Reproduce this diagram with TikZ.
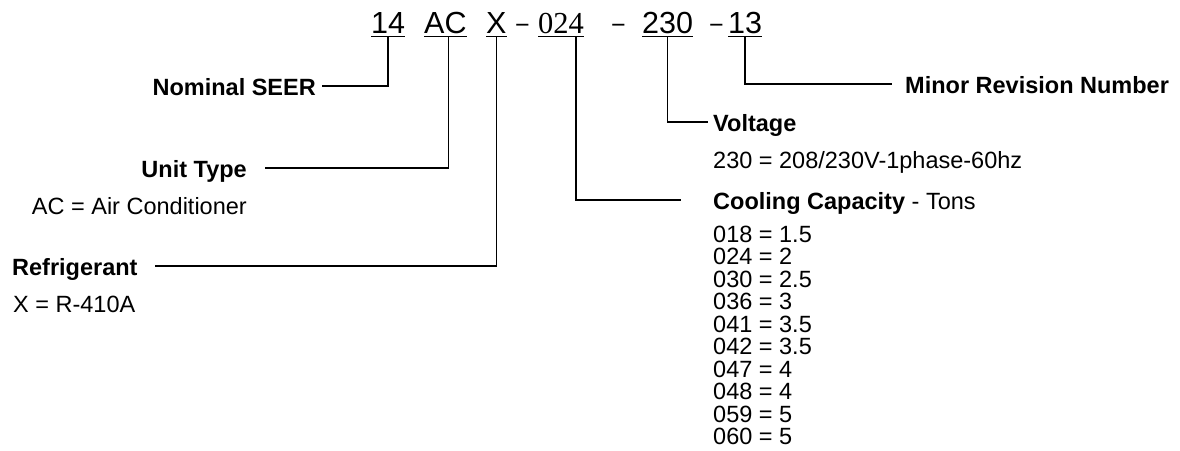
\documentclass[tikz,border=0pt]{standalone}
\usepackage{fontspec}
\usepackage{tikz}
\usepackage{xcolor}
\usetikzlibrary{calc}
\setmainfont{Liberation Sans}
\newfontfamily\serifdigits{Liberation Serif}
\newcommand\codesize{\fontsize{30.5}{36}\selectfont}
\newcommand\labsize{\fontsize{23.5}{22.5}\selectfont}
\tikzset{
  code/.style={inner sep=0pt, anchor=base west, font=\codesize},
  sepdash/.style={inner sep=0pt, anchor=base, font=\fontsize{25}{30}\selectfont},
  head/.style={inner sep=0pt, text height=18pt, text depth=0pt, font=\labsize\bfseries},
  note/.style={inner sep=0pt, font=\labsize},
  uline/.style={line width=1.8pt},
  link/.style={line width=1.5pt}
}

\begin{document}
\begin{tikzpicture}[x=1pt, y=-1pt]
          \useasboundingbox (0,0) rectangle (1180,450);
          % model number
          \node[code] (n14) at (371,33) {14};
          \node[code] (nAC) at (424,33) {AC};
          \node[code] (nX) at (486,33) {X};
          \node[sepdash] (dash1) at (522.5,33.5) {−};
          \node[code, font=\serifdigits\codesize] (n024) at (538,33) {024};
          \node[sepdash] (dash2) at (618.5,33.5) {−};
          \node[code] (n230) at (642,33) {230};
          \node[sepdash] (dash3) at (716.5,33.5) {−};
          \node[code] (n13) at (728,33) {13};
          % underlines
          \foreach \part in {n14,nAC,nX,n024,n230,n13}
            \draw[uline] ([yshift=-3.5pt]\part.base west) -- ([yshift=-3.5pt]\part.base east);
          % labels left
          \node[head, anchor=base east] (seer) at (316,95) {Nominal SEER};
          \node[head, anchor=base east] (unit) at (247,177) {Unit Type};
          \node[note, anchor=base east] (unitval) at (247,214) {AC = Air Conditioner};
          \node[head, anchor=base west] (refr) at (12,275) {Refrigerant};
          \node[note, anchor=base west] (refrval) at (13,312) {X = R-410A};
          % labels right
          \node[head, anchor=base west] (minor) at (905,93) {Minor Revision Number};
          \node[head, anchor=base west] (volt) at (713,131) {Voltage};
          \node[note, anchor=base west] (voltval) at (713,168) {230 = 208/230V-1phase-60hz};
          \node[head, anchor=base west] (cool) at (713,209) {Cooling Capacity\textmd{ - Tons}};
          \foreach \kode/\tons [count=\i] in {018/1.5, 024/2, 030/2.5, 036/3, 041/3.5, 042/3.5, 047/4, 048/4, 059/5, 060/5}
            \node[note, anchor=base west] (cap\i) at (713,{242+22.5*(\i-1)}) {\kode{} = \tons};
          % connectors
          \draw[link] ([yshift=-3.5pt]n14.base) |- ([xshift=6pt]seer.east);
          \draw[link] ([xshift=3pt,yshift=-3.5pt]nAC.base) |- ([xshift=18pt]unit.east);
          \draw[link] ([yshift=-3.5pt]nX.base) |- ([xshift=17pt]refr.east);
          \draw[link] ([xshift=15pt,yshift=-3.5pt]n024.base) |- ([xshift=-32pt]cool.west);
          \draw[link] ([yshift=-3.5pt]n230.base) |- ([xshift=-5pt]volt.west);
          \draw[link] ([yshift=-3.5pt]n13.base) |- ([xshift=-13pt]minor.west);
\end{tikzpicture}
\end{document}
